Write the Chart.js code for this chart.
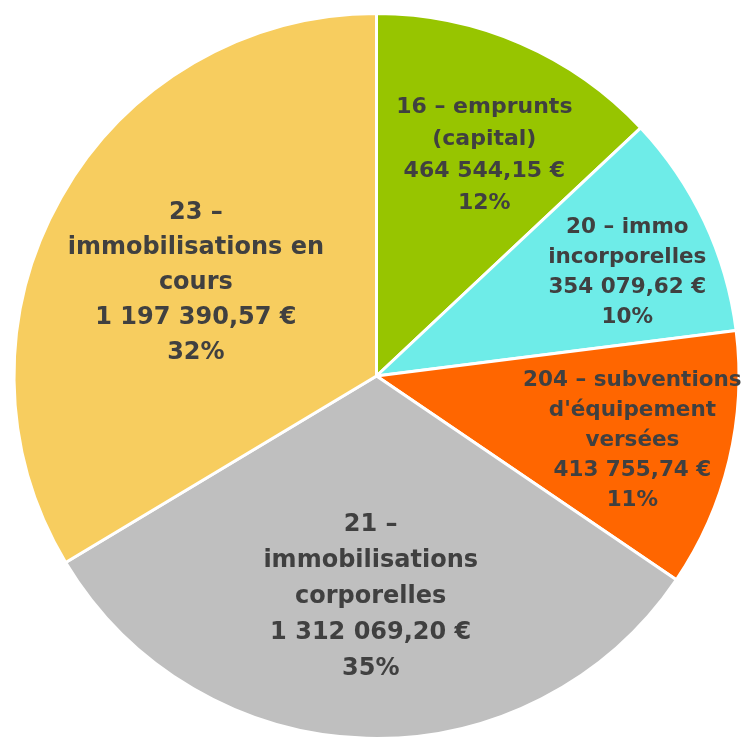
<!DOCTYPE html>
<html>
<head>
<meta charset="utf-8">
<script src="https://cdn.jsdelivr.net/npm/chart.js@4/dist/chart.umd.min.js"></script>
<style>
  html, body { margin: 0; padding: 0; background: #fff; overflow: hidden; }
  #wrap { position: absolute; left: 0; top: 0; width: 753px; height: 752px; }
</style>
</head>
<body>
<div id="wrap"><canvas id="myChart"></canvas></div>
<script>
// libellés des comptes (une ligne par entrée)
const categories = [
    ['16 – emprunts', '(capital)'],
    ['20 – immo', 'incorporelles'],
    ['204 – subventions', "d'équipement", 'versées'],
    ['21 –', 'immobilisations', 'corporelles'],
    ['23 –', 'immobilisations en', 'cours']
];
// montants affichés (€)
const amounts = [464544.15, 354079.62, 413755.74, 1312069.20, 1197390.57];
// pourcentages affichés
const percents = ['12%', '10%', '11%', '35%', '32%'];
// part de chaque secteur telle que dessinée (%)
const shares = [13.0, 10.0, 11.5, 31.9, 33.6];

const colors = ['#97c500', '#6eece8', '#ff6600', '#bfbfbf', '#f7cd5f'];

function formatEuro(v) {
    const parts = v.toFixed(2).split('.');
    const ent = parts[0].replace(/\B(?=(\d{3})+(?!\d))/g, ' ');
    return ent + ',' + parts[1] + ' €';
}

const labelPlugin = {
    id: 'sliceLabels',
    afterDatasetsDraw(chart, args, opts) {
        const ctx = chart.ctx;
        const meta = chart.getDatasetMeta(0);
        ctx.save();
        ctx.fillStyle = opts.color;
        ctx.textAlign = 'center';
        ctx.textBaseline = 'middle';
        meta.data.forEach(function (arc, i) {
            const p = arc.getProps(['x', 'y', 'startAngle', 'endAngle', 'outerRadius'], true);
            const a = p.startAngle + (p.endAngle - p.startAngle) * opts.along[i];
            const r = p.outerRadius * opts.radius[i];
            const cx = p.x + Math.cos(a) * r;
            const cy = p.y + Math.sin(a) * r;
            const lh = opts.lineHeight[i];
            ctx.font = 'bold ' + opts.size[i] + 'px "DejaVu Sans"';
            const lines = categories[i].concat([formatEuro(amounts[i]), percents[i]]);
            const top = cy - (lines.length - 1) * lh / 2;
            lines.forEach(function (t, k) {
                ctx.fillText(t, cx, top + k * lh);
            });
        });
        ctx.restore();
    }
};

document.addEventListener('DOMContentLoaded', function () {
    const ctx = document.getElementById('myChart').getContext('2d');
    new Chart(ctx, {
        type: 'pie',
        data: {
            labels: categories.map(function (c) { return c.join(' '); }),
            datasets: [{
                data: shares,
                backgroundColor: colors,
                borderColor: '#ffffff',
                borderWidth: 3
            }]
        },
        options: {
            responsive: true,
            maintainAspectRatio: false,
            animation: false,
            layout: { padding: 12 },
            plugins: {
                legend: { display: false },
                tooltip: { enabled: false },
                sliceLabels: {
                    color: '#404040',
                    size: [22, 21.5, 21.5, 24, 24],
                    lineHeight: [32, 30, 30, 36, 35],
                    along: [0.556, 0.574, 0.516, 0.499, 0.482],
                    radius: [0.678, 0.749, 0.728, 0.608, 0.561]
                }
            }
        },
        plugins: [labelPlugin]
    });
});
</script>
</body>
</html>
